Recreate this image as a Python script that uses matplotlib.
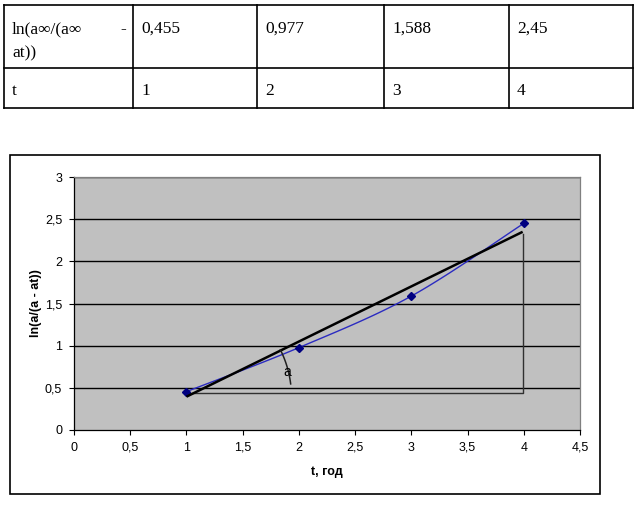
import numpy as np
import matplotlib as mpl
mpl.use('Agg')
import matplotlib.pyplot as plt
from matplotlib.lines import Line2D
from matplotlib.patches import Rectangle

# данные из таблицы
t_vals = [1, 2, 3, 4]
ln_vals = [0.455, 0.977, 1.588, 2.45]
ln_labels = ['0,455', '0,977', '1,588', '2,45']
t_labels = ['1', '2', '3', '4']

# прямая и треугольник для угла a
fit_x = [1.0, 3.99]
fit_y = [0.395, 2.35]
base_y = 0.435

x_ticks = np.arange(0, 4.51, 0.5)
y_ticks = np.arange(0, 3.01, 0.5)

W, H = 638, 505
fig = plt.figure(figsize=(W / 100, H / 100), dpi=100)


def fx(x):
    return x / W


def fy(y):
    return 1 - y / H


# ---- таблица сверху ----
serif = ['Liberation Serif', 'DejaVu Serif']
col_x = [4, 133, 257, 384, 509, 633]
row_y = [5, 68, 108]
for y in row_y:
    fig.add_artist(Line2D([fx(col_x[0]), fx(col_x[-1])], [fy(y), fy(y)], color='black', lw=1.2))
for x in col_x:
    fig.add_artist(Line2D([fx(x), fx(x)], [fy(row_y[0]), fy(row_y[-1])], color='black', lw=1.2))

fs = 12.5
fig.text(fx(12), fy(33), 'ln(a\u221e/(a\u221e', family=serif, fontsize=fs, va='baseline')
fig.text(fx(120), fy(33), '-', family=serif, fontsize=fs, va='baseline')
fig.text(fx(12), fy(57), 'at))', family=serif, fontsize=fs, va='baseline')
fig.text(fx(12), fy(95), 't', family=serif, fontsize=fs, va='baseline')
for i in range(4):
    fig.text(fx(col_x[i + 1] + 8), fy(33), ln_labels[i], family=serif, fontsize=fs, va='baseline')
    fig.text(fx(col_x[i + 1] + 8), fy(95), t_labels[i], family=serif, fontsize=fs, va='baseline')

# ---- рамка диаграммы ----
fig.add_artist(Rectangle((fx(9.5), fy(494)), fx(600 - 9.5), (494 - 155) / H,
                         transform=fig.transFigure, fill=False, edgecolor='black', lw=1.2))

plt.rcParams['font.family'] = ['Liberation Sans', 'DejaVu Sans']

ax = fig.add_axes([fx(74), fy(430), fx(580 - 74), (430 - 177) / H])
ax.set_facecolor('#C0C0C0')
ax.set_xlim(0, 4.5)
ax.set_ylim(0, 3)

for yv in y_ticks[1:]:
    ax.axhline(yv, color='black', lw=1.0, zorder=1)

# сглаженная линия (кривые Безье как в Excel)
pts = np.array(list(zip(t_vals, ln_vals)), dtype=float)
n = len(pts)
sx_all, sy_all = [], []
for i in range(n - 1):
    p0 = pts[i - 1] if i > 0 else pts[i]
    p1 = pts[i]
    p2 = pts[i + 1]
    p3 = pts[i + 2] if i + 2 < n else pts[i + 1]
    c1 = p1 + (p2 - p0) / 6
    c2 = p2 - (p3 - p1) / 6
    s = np.linspace(0, 1, 30)[:, None]
    seg = (1 - s) ** 3 * p1 + 3 * (1 - s) ** 2 * s * c1 + 3 * (1 - s) * s ** 2 * c2 + s ** 3 * p2
    sx_all.extend(seg[:, 0])
    sy_all.extend(seg[:, 1])
ax.plot(sx_all, sy_all, color='#2B2BC0', lw=1.0, zorder=3)
ax.plot(t_vals, ln_vals, linestyle='none', marker='D', markersize=4.2,
        color='#000080', zorder=4)

# прямая и треугольник
ax.plot(fit_x, fit_y, color='black', lw=1.8, zorder=5, solid_capstyle='butt')
ax.plot([fit_x[0] + 0.02, fit_x[1], fit_x[1]], [base_y, base_y, fit_y[1] - 0.02],
        color='#303030', lw=1.0, zorder=2)

# дуга угла
sxp = ax.bbox.width / 4.5
syp = ax.bbox.height / 3.0
r = 105
ang = np.radians(np.linspace(7.0, 26.5, 40))
ax.plot(fit_x[0] + r * np.cos(ang) / sxp, fit_y[0] + r * np.sin(ang) / syp,
        color='#202020', lw=1.1, zorder=5)
ax.text(1.9, 0.69, 'a', fontsize=10, ha='center', va='center', zorder=6)

ax.set_xticks(x_ticks)
ax.set_yticks(y_ticks)
ax.set_xticklabels([('%g' % v).replace('.', ',') for v in x_ticks])
ax.set_yticklabels([('%g' % v).replace('.', ',') for v in y_ticks])
ax.tick_params(direction='out', length=3.5, width=0.8, labelsize=9, pad=5, colors='black')

for side in ['top', 'right']:
    ax.spines[side].set_color('#808080')
ax.spines['left'].set_color('black')
ax.spines['bottom'].set_color('black')
for sp in ax.spines.values():
    sp.set_linewidth(0.9)

ax.set_xlabel('t, год', fontsize=9, fontweight='bold', labelpad=9)
ax.set_ylabel('ln(a/(a - at))', fontsize=9, fontweight='bold', labelpad=2)

plt.savefig('out.png', dpi=100)
